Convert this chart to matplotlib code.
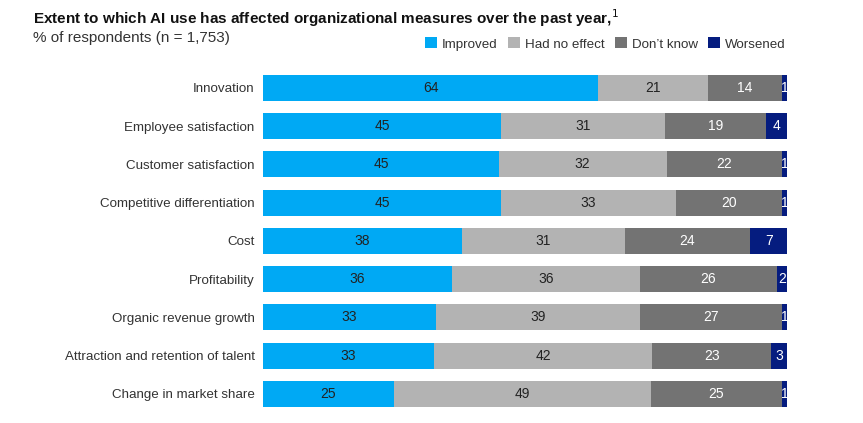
import numpy as np
import matplotlib.pyplot as plt
from matplotlib.patches import Patch

plt.rcParams["font.family"] = ["Liberation Sans", "DejaVu Sans"]

categories = ["Innovation", "Employee satisfaction", "Customer satisfaction",
              "Competitive differentiation", "Cost", "Profitability",
              "Organic revenue growth", "Attraction and retention of talent",
              "Change in market share"]
improved = [64, 45, 45, 45, 38, 36, 33, 33, 25]
no_effect = [21, 31, 32, 33, 31, 36, 39, 42, 49]
dont_know = [14, 19, 22, 20, 24, 26, 27, 23, 25]
worsened = [1, 4, 1, 1, 7, 2, 1, 3, 1]

series = ["Improved", "Had no effect", "Don\u2019t know", "Worsened"]
colors = ["#00A9F4", "#B3B3B3", "#737373", "#051C7F"]
text_colors = ["#222222", "#222222", "white", "white"]

data = np.array([improved, no_effect, dont_know, worsened], dtype=float)
# bars fill the full width, so each row is scaled to 100
shares = data / data.sum(axis=0) * 100

fig = plt.figure(figsize=(8.63, 4.23), dpi=100)
ax = fig.add_axes([0.3048, 0.0234, 0.6072, 0.8143])

y = np.arange(len(categories))
left = np.zeros(len(categories))
for i, name in enumerate(series):
    ax.barh(y, shares[i], left=left, height=0.68, color=colors[i], label=name)
    for j in range(len(categories)):
        cx = left[j] + shares[i][j] / 2
        ax.text(cx, y[j], str(int(data[i][j])), ha="center", va="center",
                fontsize=10, color=text_colors[i])
    left += shares[i]

ax.set_xlim(0, 100)
ax.set_ylim(len(categories) - 0.5, -0.5)
ax.set_yticks(y)
ax.set_yticklabels(categories, fontsize=9.6, color="#333333")
ax.tick_params(axis="y", length=0, pad=6)
ax.set_xticks([])
for s in ax.spines.values():
    s.set_visible(False)

fig.text(33 / 863, 1 - 18 / 423, "Extent to which AI use has affected organizational measures over the past year,$^{1}$",
         fontsize=11, fontweight="bold", va="center", ha="left", color="#111111")
fig.text(33 / 863, 1 - 38 / 423, "% of respondents (n = 1,753)",
         fontsize=11, va="center", ha="left", color="#333333")

handles = [Patch(facecolor=c, edgecolor="none") for c in colors]
fig.legend(handles, series, loc="center right", bbox_to_anchor=(786 / 863, 1 - 44 / 423),
           ncol=4, frameon=False, fontsize=9.6, handlelength=0.9, handleheight=0.9,
           handletextpad=0.4, columnspacing=0.75, borderpad=0, borderaxespad=0,
           labelcolor="#333333")

fig.savefig("out.png", dpi=100)
